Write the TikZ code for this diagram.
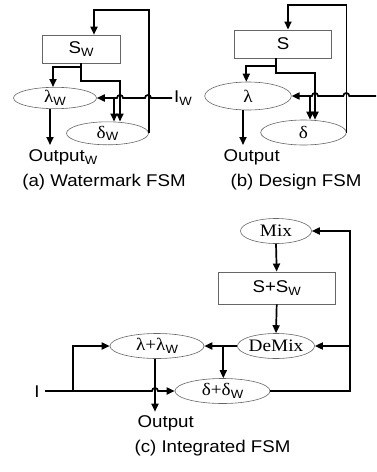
\documentclass[tikz,border=0pt]{standalone}
\usepackage{fontspec}
\setmainfont{Liberation Serif}[FakeStretch=1.1]
\setsansfont{Liberation Sans}[FakeStretch=1.1]
\usetikzlibrary{shapes.geometric,arrows.meta}
\newcommand\wsub{\raisebox{-0.35ex}{\sffamily\fontsize{12}{12}\selectfont W}}
\begin{document}
\begin{tikzpicture}[x=1pt,y=-1pt,
  stbox/.style={draw=gray!80!black,line width=0.6pt,rectangle,inner sep=0pt,font=\sffamily\fontsize{17}{17}\selectfont},
  fn/.style={draw=gray!80!black,line width=0.6pt,ellipse,inner sep=0pt,font=\fontsize{17.5}{17.5}\selectfont},
  wire/.style={line width=1.7pt},
  arr/.style={wire,-{Triangle[length=8pt,width=7pt]}},
  lbl/.style={font=\sffamily\fontsize{17}{17}\selectfont,inner sep=0pt},
]
\useasboundingbox (0,0) rectangle (376,472);

% ---------- (a) Watermark FSM ----------
\node[stbox,minimum width=78pt,minimum height=28pt] (sw) at (81,49) {S\wsub};
\node[fn,minimum width=83pt,minimum height=21pt] (lw) at (55,98) {λ\wsub};
\node[fn,minimum width=82pt,minimum height=23pt] (dw) at (107.5,133.3) {δ\wsub};
\coordinate (fa1) at (148,10);
\coordinate (fa2) at (94,10);
\draw[arr] (dw.east) -- (dw.east |- fa1) -- (fa2) -- (fa2 |- sw.north);
\coordinate (ta2) at (53,67);
\draw[arr] (sw.south) |- (ta2) -- (ta2 |- lw.north);
\coordinate (ta3) at (120,81);
\draw[arr] (sw.south) |- (ta3) -- (ta3 |- dw.north);
\node[lbl,anchor=west] (iw) at (174,98) {I\wsub};
\coordinate (ia1) at (172,98);
\coordinate (ia2) at (151,98);
\coordinate (ia3) at (123,98);
\draw[arr] (ia1) -- (ia2) arc[start angle=0,end angle=180,radius=3pt]
  -- (ia3) arc[start angle=0,end angle=180,radius=3pt] -- (lw.east);
\coordinate (ib) at (114,98);
\draw[arr] (ib) -- (ib |- dw.north);
\coordinate (oa) at (50,145);
\draw[arr] (oa |- lw.south) -- (oa);
\node[lbl] (outa) at (63,157) {Output\wsub};
\node[lbl] (capa) at (104,182) {(a) Watermark FSM};

% ---------- (b) Design FSM ----------
\node[stbox,minimum width=96.7pt,minimum height=28.3pt] (s) at (283,44) {S};
\node[fn,minimum width=86.6pt,minimum height=28pt] (l) at (248,96) {λ};
\node[fn,minimum width=85.6pt,minimum height=25pt] (d) at (303.5,132.5) {δ};
\coordinate (fb1) at (346.3,5);
\coordinate (fb2) at (288,5);
\draw[arr] (d.east) -- (d.east |- fb1) -- (fb2) -- (fb2 |- s.north);
\coordinate (sb) at (276.3,58.2);
\coordinate (tb2) at (246.3,66);
\draw[arr] (sb) |- (tb2) -- (tb2 |- l.north);
\coordinate (tb3) at (315,73);
\draw[arr] (sb) |- (tb3) -- (tb3 |- d.north);
\coordinate (ib1) at (376,96);
\coordinate (ib2) at (349.3,96);
\coordinate (ib3) at (318,96);
\draw[arr] (ib1) -- (ib2) arc[start angle=0,end angle=180,radius=3pt]
  -- (ib3) arc[start angle=0,end angle=180,radius=3pt] -- (l.east);
\coordinate (ibb) at (310,96);
\draw[arr] (ibb) -- (ibb |- d.north);
\coordinate (ob) at (243,145);
\draw[arr] (ob |- l.south) -- (ob);
\node[lbl] (outb) at (251.7,157) {Output};
\node[lbl] (capb) at (296,182) {(b) Design FSM};

% ---------- (c) Integrated FSM ----------
\node[fn,minimum width=71pt,minimum height=25pt] (mix) at (276,231) {Mix};
\node[stbox,minimum width=116.7pt,minimum height=32.3pt] (ss) at (276.7,288) {S+S\wsub};
\node[fn,minimum width=71pt,minimum height=25pt] (dm) at (276,346) {DeMix};
\node[fn,minimum width=94pt,minimum height=25pt] (lc) at (157,346) {λ+λ\wsub};
\node[fn,minimum width=95pt,minimum height=25pt] (dc) at (222.5,391) {δ+δ\wsub};
\draw[arr] (mix.south) -- (ss.north);
\draw[arr] (ss.south) -- (dm.north);
\draw[arr] (dm.west) -- (lc.east);
\coordinate (br) at (223.3,346);
\draw[arr] (br) -- (br |- dc.north);
\coordinate (fc) at (350,231);
\draw[arr] (dc.east) -| (fc) -- (mix.east);
\draw[arr] (fc |- dm.east) -- (dm.east);
\node[lbl] (ic) at (37,392) {I};
\coordinate (ic1) at (45,391);
\coordinate (ic2) at (152,391);
\draw[arr] (ic1) -- (ic2) arc[start angle=180,end angle=0,radius=3pt] -- (dc.west);
\coordinate (ibc) at (72.7,391);
\draw[arr] (ibc) |- (lc.west);
\coordinate (oc) at (155,411.7);
\draw[arr] (oc |- lc.south) -- (oc);
\node[lbl] (outc) at (165.7,423) {Output};
\node[lbl] (capc) at (212.5,448) {(c) Integrated FSM};
\end{tikzpicture}
\end{document}
